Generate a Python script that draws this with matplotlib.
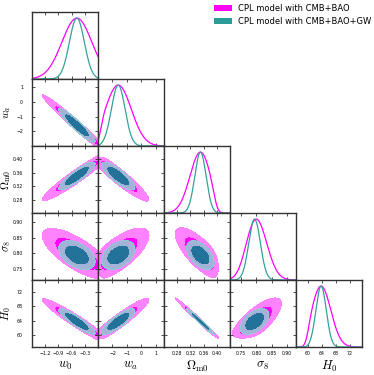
import math
import numpy as np
import matplotlib.pyplot as plt
from matplotlib.patches import Patch

plt.rcParams['mathtext.fontset'] = 'cm'

# parameters, axis ranges and ticks
labels = [r'$w_0$', r'$w_a$', r'$\Omega_{\rm m0}$', r'$\sigma_8$', r'$H_0$']
lims = [(-1.5, 0.0), (-3.0, 1.56), (0.241, 0.438), (0.714, 0.929), (56.6, 75.4)]
ticks = [[-1.2, -0.9, -0.6, -0.3], [-2, -1, 0, 1], [0.28, 0.32, 0.36, 0.40],
         [0.75, 0.80, 0.85, 0.90], [60, 64, 68, 72]]

names = ['CPL model with CMB+BAO', 'CPL model with CMB+BAO+GW']

# posterior: w0 (peak, width, cut at w0 = 0),
# other params = value at w0=0 + slope*w0 + scatter   (wa, Om, s8, H0)
bao_w0 = [-0.48, 0.34]
bao_at_zero = [-2.85, 0.392, 0.762, 60.0]
bao_slope = [-2.6, 0.088, -0.075, -7.8]
bao_scatter = [0.17, 0.0095, 0.024, 0.8]

gw_w0 = [-0.48, 0.17]
gw_at_zero = [-2.85, 0.392, 0.770, 60.0]
gw_slope = [-2.6, 0.088, -0.050, -7.8]
gw_scatter = [0.17, 0.0078, 0.017, 0.65]

scatter_corr = np.array([[1.0, 0.0, 0.0, 0.0],
                         [0.0, 1.0, -0.3, -0.93],
                         [0.0, -0.3, 1.0, 0.3],
                         [0.0, -0.93, 0.3, 1.0]])

# colours: (outer, inner, line)
bao_cols = ('#ff82ff', '#ff00ff', '#ff00ff')
gw_cols = ('#a2b3d8', '#22729a', '#35a09c')

erf = np.vectorize(math.erf)


def Phi(z):
    return 0.5 * (1 + erf(z / np.sqrt(2)))


def build(w0p, at0, slope, scat):
    m0, s0 = w0p
    b = np.concatenate([[1.0], slope])
    mean = np.concatenate([[m0], np.array(at0) + np.array(slope) * m0])
    cov = np.outer(b, b) * s0 ** 2
    d = np.array(scat)
    cov[1:, 1:] += np.outer(d, d) * scatter_corr
    return mean, cov


def dens1d(mean, cov, i, x):
    s = np.sqrt(cov[i, i])
    p = np.exp(-0.5 * ((x - mean[i]) / s) ** 2)
    if i == 0:
        return p * (x <= 0)
    c = cov[0, i] / cov[i, i]
    mc = mean[0] + c * (x - mean[i])
    sc = np.sqrt(cov[0, 0] - c * cov[i, 0])
    return p * Phi(-mc / sc)


def dens2d(mean, cov, i, j, X, Y):
    idx = [i, j]
    mu = mean[idx]
    S = cov[np.ix_(idx, idx)]
    Si = np.linalg.inv(S)
    dx = X - mu[0]
    dy = Y - mu[1]
    q = Si[0, 0] * dx * dx + 2 * Si[0, 1] * dx * dy + Si[1, 1] * dy * dy
    p = np.exp(-0.5 * q)
    if i == 0:
        return p * (X <= 0)
    c = cov[0, idx] @ Si
    mc = mean[0] + c[0] * dx + c[1] * dy
    sc = np.sqrt(cov[0, 0] - c @ cov[idx, 0])
    return p * Phi(-mc / sc)


def levels(mean, cov, i, j):
    si, sj = np.sqrt(cov[i, i]), np.sqrt(cov[j, j])
    xs = np.linspace(mean[i] - 6 * si, mean[i] + 6 * si, 260)
    ys = np.linspace(mean[j] - 6 * sj, mean[j] + 6 * sj, 260)
    X, Y = np.meshgrid(xs, ys)
    p = np.sort(dens2d(mean, cov, i, j, X, Y).ravel())[::-1]
    cs = np.cumsum(p) / p.sum()
    return p[np.searchsorted(cs, 0.95)], p[np.searchsorted(cs, 0.68)]


models = [build(bao_w0, bao_at_zero, bao_slope, bao_scatter),
          build(gw_w0, gw_at_zero, gw_slope, gw_scatter)]
colours = [bao_cols, gw_cols]

W, H = 374, 375
fig = plt.figure(figsize=(W / 100, H / 100), dpi=100)
left, top, pw, ph = 32, 12, 66, 67

for r in range(5):
    for c in range(r + 1):
        ax = fig.add_axes([(left + c * pw) / W, 1 - (top + (r + 1) * ph) / H, pw / W, ph / H])
        ax.set_xlim(lims[c])
        ax.set_xticks(ticks[c])
        if r == c:
            x = np.linspace(lims[c][0], lims[c][1], 400)
            for (mean, cov), col in zip(models, colours):
                xw = np.linspace(mean[c] - 6 * np.sqrt(cov[c, c]), mean[c] + 6 * np.sqrt(cov[c, c]), 800)
                peak = dens1d(mean, cov, c, xw).max()
                ax.plot(x, dens1d(mean, cov, c, x) / peak, color=col[2], lw=0.9)
            ax.set_ylim(0, 1.1)
            ax.set_yticks([])
        else:
            ax.set_ylim(lims[r])
            ax.set_yticks(ticks[r])
            dx = (lims[c][1] - lims[c][0]) * 0.02
            dy = (lims[r][1] - lims[r][0]) * 0.02
            xs = np.linspace(lims[c][0] - dx, lims[c][1] + dx, 220)
            ys = np.linspace(lims[r][0] - dy, lims[r][1] + dy, 220)
            X, Y = np.meshgrid(xs, ys)
            for k, ((mean, cov), col) in enumerate(zip(models, colours)):
                l95, l68 = levels(mean, cov, c, r)
                Z = dens2d(mean, cov, c, r, X, Y)
                ax.contourf(X, Y, Z, levels=[l95, l68, Z.max() * 2], colors=[col[0], col[1]])
                if k == 1:
                    ax.contour(X, Y, Z, levels=[l95], colors='#8fcfd0', linewidths=0.6)
        ax.tick_params(direction='in', length=2.5, width=0.6, top=True, right=(r != c),
                       labelsize=3.3, pad=3, color='#333333')
        ax.tick_params(axis='y', pad=6.5)
        ax.tick_params(labelbottom=(r == 4), labelleft=(c == 0 and r > 0))
        for s in ax.spines.values():
            s.set_linewidth(1.0)
            s.set_color('#333333')
        if r == 4:
            ax.set_xlabel(labels[c], fontsize=9)
            ax.xaxis.set_label_coords(0.5, -0.18)
        if c == 0 and r > 0:
            ax.set_ylabel(labels[r], fontsize=8)
            ax.yaxis.set_label_coords(-0.29, 0.5)

handles = [Patch(facecolor=bao_cols[1]), Patch(facecolor='#2b9c98')]
fig.legend(handles, names, loc='upper right', bbox_to_anchor=(373 / W, 1 - 2 / H),
           frameon=False, fontsize=6, handlelength=2.2, handleheight=0.8,
           handletextpad=0.7, labelspacing=0.5, borderaxespad=0, borderpad=0.2)

fig.savefig('out.png', dpi=100)
